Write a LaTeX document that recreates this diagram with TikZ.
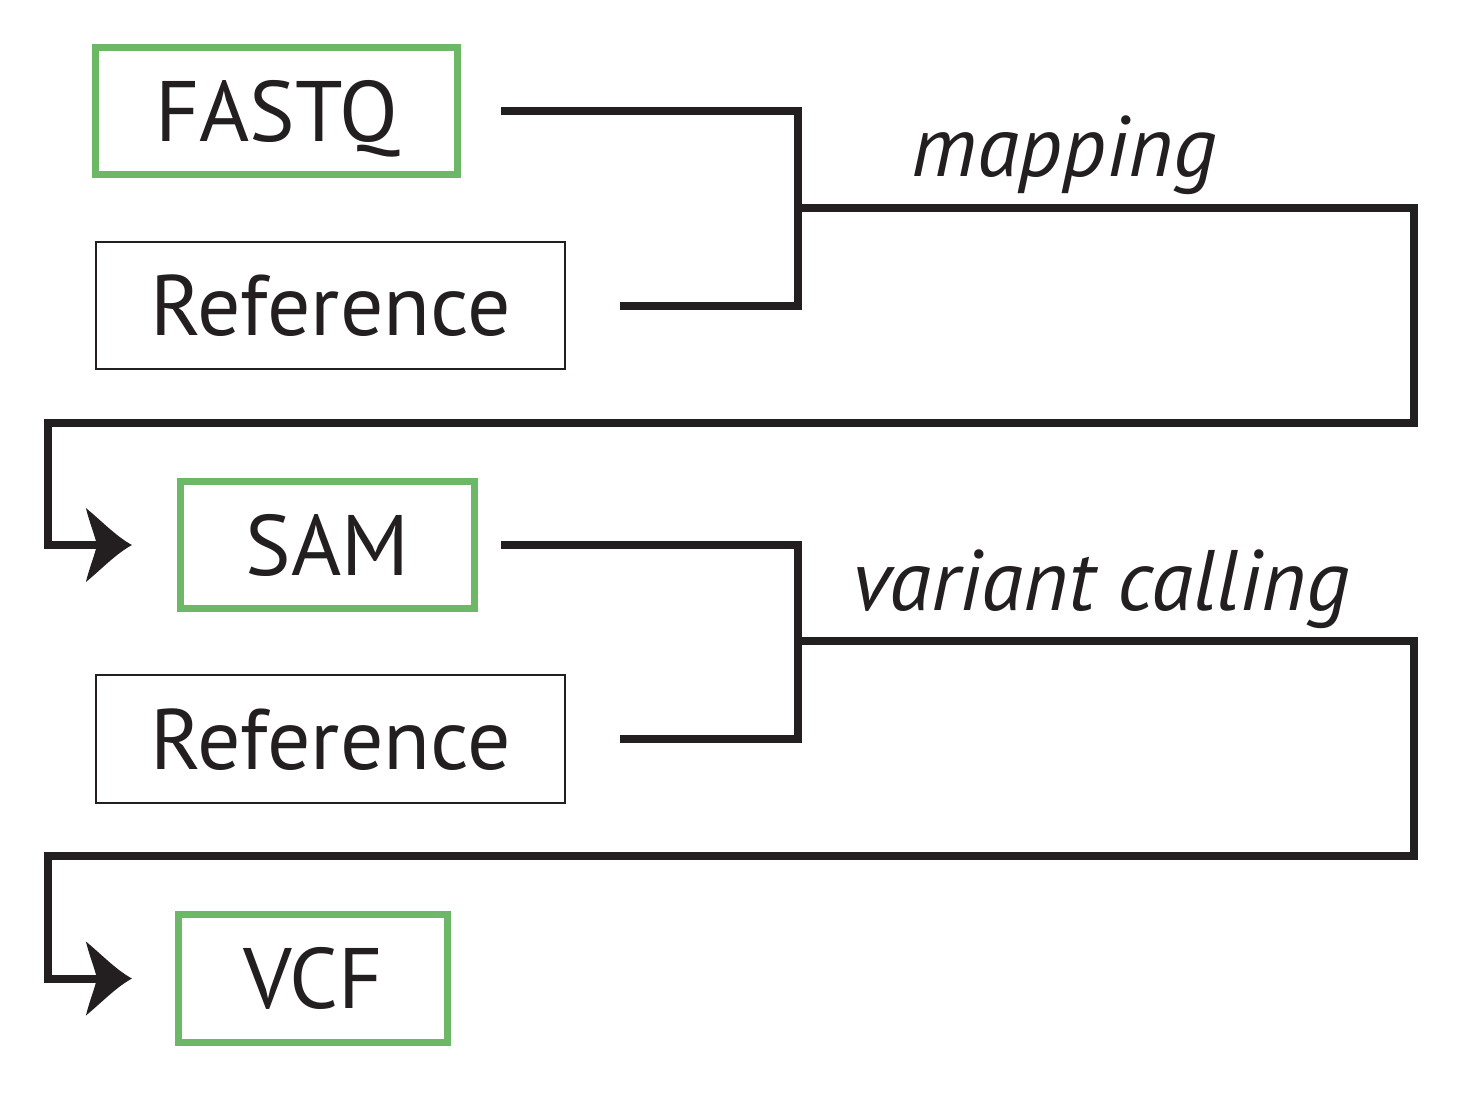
\documentclass[tikz,border=0pt]{standalone}
\usepackage{fontspec}
\setmainfont{PT Sans}
\usepackage{xcolor}
\usepackage{tikz}
\usetikzlibrary{arrows.meta, positioning, calc}

\definecolor{ink}{HTML}{231F20}
\definecolor{filegreen}{HTML}{6DB867}

% swept arrow head with curved barbs
\pgfdeclarearrow{
  name = Swept,
  parameters = {\the\pgfarrowlength,\the\pgfarrowwidth},
  setup code = {
    \pgfarrowssettipend{0pt}
    \pgfarrowssetlineend{-.6\pgfarrowlength}
    \pgfarrowssetbackend{-\pgfarrowlength}
    \pgfarrowssetvisualbackend{-.76\pgfarrowlength}
    \pgfarrowshullpoint{0pt}{0pt}
    \pgfarrowsupperhullpoint{-\pgfarrowlength}{.5\pgfarrowwidth}
    \pgfarrowssavethe\pgfarrowlength
    \pgfarrowssavethe\pgfarrowwidth
  },
  drawing code = {
    \pgfpathmoveto{\pgfpointorigin}
    \pgfpathcurveto{\pgfpoint{-.35\pgfarrowlength}{.12\pgfarrowwidth}}
                   {\pgfpoint{-.65\pgfarrowlength}{.32\pgfarrowwidth}}
                   {\pgfpoint{-\pgfarrowlength}{.5\pgfarrowwidth}}
    \pgfpathcurveto{\pgfpoint{-.92\pgfarrowlength}{.3\pgfarrowwidth}}
                   {\pgfpoint{-.8\pgfarrowlength}{.12\pgfarrowwidth}}
                   {\pgfpoint{-.76\pgfarrowlength}{0pt}}
    \pgfpathcurveto{\pgfpoint{-.8\pgfarrowlength}{-.12\pgfarrowwidth}}
                   {\pgfpoint{-.92\pgfarrowlength}{-.3\pgfarrowwidth}}
                   {\pgfpoint{-\pgfarrowlength}{-.5\pgfarrowwidth}}
    \pgfpathcurveto{\pgfpoint{-.65\pgfarrowlength}{-.32\pgfarrowwidth}}
                   {\pgfpoint{-.35\pgfarrowlength}{-.12\pgfarrowwidth}}
                   {\pgfpointorigin}
    \pgfpathclose
    \pgfusepathqfill
  },
  defaults = {length = 13pt, width = 21pt}
}

\tikzset{
  filebox/.style={draw=filegreen, line width=0.07cm, minimum height=1.27cm,
    inner sep=0pt, outer sep=0pt, text=ink, text height=0.6cm, text depth=0pt,
    font=\fontsize{24.4pt}{28pt}\selectfont},
  refbox/.style={filebox, draw=ink, line width=0.02cm, minimum width=4.69cm},
  flow/.style={color=ink, line width=0.08cm},
  feed/.style={flow, -{Swept[length=0.46cm, width=0.74cm]}},
  steplabel/.style={text=ink, anchor=base west, inner sep=0pt,
    font=\fontsize{24.4pt}{28pt}\selectfont\itshape},
}

\begin{document}
\begin{tikzpicture}[x=0.01cm, y=-0.01cm]
\useasboundingbox (0,0) rectangle (1482,1096);

% File boxes
\node[filebox, minimum width=3.62cm] (fastq) at (276.5,111) {FASTQ};
\node[refbox] (ref1) at (330.5,305.5) {Reference};
\node[filebox, minimum width=2.94cm] (sam) at (327.5,545) {SAM};
\node[refbox] (ref2) at (330.5,739) {Reference};
\node[filebox, minimum width=2.69cm] (vcf) at (313,978.5) {VCF};

% Mapping step
\coordinate (fastq out) at ($(fastq.east)+(43.5,0)$);
\coordinate (ref1 out) at ($(ref1.east)+(54.5,0)$);
\coordinate (map join) at (798,208);
\draw[flow] (fastq out) -| (map join) |- (ref1 out);
\draw[feed] (map join) -- (1414,208) |- (48,422.5) |- ($(sam.west)+(-48.5,0)$);
\node[steplabel] (map label) at (911,176) {mapping};

% Variant calling step
\coordinate (sam out) at ($(sam.east)+(26.5,0)$);
\coordinate (ref2 out) at ($(ref2.east)+(54.5,0)$);
\coordinate (call join) at (798,641);
\draw[flow] (sam out) -| (call join) |- (ref2 out);
\draw[feed] (call join) -- (1414,641) |- (48,856) |- ($(vcf.west)+(-46.5,0)$);
\node[steplabel] (call label) at (852,610) {variant calling};

\end{tikzpicture}
\end{document}
